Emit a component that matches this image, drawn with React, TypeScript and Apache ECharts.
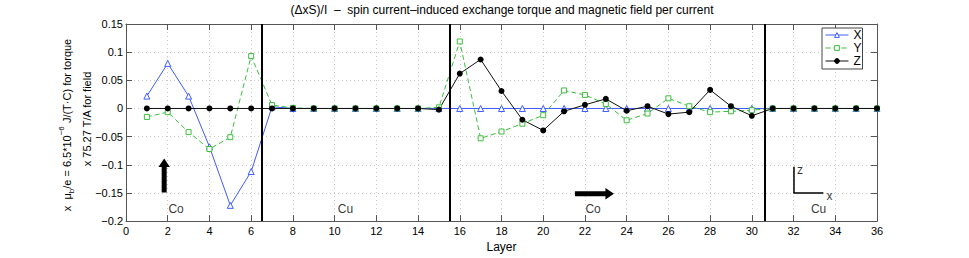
import React, { useEffect, useRef } from "react";
import * as echarts from "echarts";

// ---- data ----
const layers = [1, 2, 3, 4, 5, 6, 7, 8, 9, 10, 11, 12, 13, 14, 15, 16, 17, 18, 19, 20, 21, 22, 23, 24, 25, 26, 27, 28, 29, 30, 31, 32, 33, 34, 35, 36];
const seriesX = [0.022, 0.080, 0.022, -0.068, -0.172, -0.112, 0.003, 0, 0, 0, 0, 0, 0, 0, 0, 0, 0, 0, 0, 0, 0, 0, 0, 0, 0, 0, 0, 0, 0, 0, 0, 0, 0, 0, 0, 0];
const seriesY = [-0.015, -0.0065, -0.042, -0.072, -0.051, 0.093, 0.006, 0.001, 0, 0, 0, 0, 0, 0, 0.002, 0.119, -0.053, -0.041, -0.027, -0.012, 0.032, 0.024, 0.008, -0.021, -0.009, 0.018, 0.004, -0.0065, -0.005, -0.003, 0, 0, 0, 0, 0, 0];
const seriesZ = [0, 0, 0, 0, 0, 0, 0, 0, 0, 0, 0, 0, 0, 0, -0.002, 0.062, 0.087, 0.031, -0.020, -0.039, -0.005, 0.0065, 0.017, -0.004, 0.004, -0.010, -0.0065, 0.033, 0.004, -0.013, 0, 0, 0, 0, 0, 0];
const seriesNames = ["X", "Y", "Z"];

const xMin = 0, xMax = 36, xStep = 2;
const yMin = -0.2, yMax = 0.15, yStep = 0.05;

const interfaces = [6.5, 15.5, 30.6];
const regionLabels = [
  { name: "Co", x: 2.4, y: -0.179 },
  { name: "Cu", x: 10.52, y: -0.179 },
  { name: "Co", x: 22.39, y: -0.179 },
  { name: "Cu", x: 33.2, y: -0.179 },
];
const arrows = [
  [1.83, -0.149, 1.83, -0.089],
  [21.52, -0.1515, 23.39, -0.1515],
];
const axisGlyph = [[32.02, -0.1035, 32.02, -0.15, 33.43, -0.15]];
const glyphLabels = [
  { name: "z", x: 32.31, y: -0.109 },
  { name: "x", x: 33.72, y: -0.155 },
];

const titleText = "(\u0394xS)/I  \u2013  spin current\u2013induced exchange torque and magnetic field per current";

const FONT = "'Liberation Sans', Arial, Helvetica, sans-serif";
const BLUE = "#3d5cff";
const GREEN = "#3cbf3c";

function fmt(v: number) {
  const r = Math.round(v * 1000) / 1000;
  return String(r).replace("-", "\u2212");
}

export default function App() {
  const ref = useRef<HTMLDivElement>(null);
  useEffect(() => {
    if (!ref.current) return;
    const chart = echarts.init(ref.current, undefined, { renderer: "svg" });
    const axisColor = "#555";
    const gridLine = { show: true, lineStyle: { color: "#c8c8c8", type: [1, 3] as any, width: 1 } };
    const option: any = {
      animation: false,
      backgroundColor: "#fff",
      textStyle: { fontFamily: FONT },
      grid: { left: 126, right: 92, top: 24, bottom: 30, containLabel: false },
      legend: {
        data: seriesNames,
        orient: "vertical",
        left: 822,
        top: 28,
        padding: [1, 1, 2, 3],
        itemWidth: 23,
        itemHeight: 6,
        itemGap: 1,
        borderColor: "#444",
        borderWidth: 1,
        backgroundColor: "#fff",
        lineStyle: { width: 1 },
        itemStyle: { borderWidth: 1 },
        textStyle: { fontSize: 12, color: "#000", fontFamily: FONT },
      },
      xAxis: [
        {
          type: "value",
          min: xMin,
          max: xMax,
          interval: xStep,
          name: "Layer",
          nameLocation: "middle",
          nameGap: 17,
          nameTextStyle: { fontSize: 12, color: "#000", fontFamily: FONT },
          axisLine: { show: true, onZero: false, lineStyle: { color: axisColor } },
          axisTick: { show: true, inside: true, length: 6, lineStyle: { color: axisColor } },
          axisLabel: { fontSize: 11, color: "#000", margin: 4, fontFamily: FONT },
          splitLine: gridLine,
        },
        {
          type: "value",
          position: "top",
          min: xMin,
          max: xMax,
          interval: xStep,
          axisLine: { show: true, onZero: false, lineStyle: { color: axisColor } },
          axisTick: { show: true, inside: true, length: 6, lineStyle: { color: axisColor } },
          axisLabel: { show: false },
          splitLine: { show: false },
        },
      ],
      yAxis: [
        {
          type: "value",
          min: yMin,
          max: yMax,
          interval: yStep,
          axisLine: { show: true, onZero: false, lineStyle: { color: axisColor } },
          axisTick: { show: true, inside: true, length: 6, lineStyle: { color: axisColor } },
          axisLabel: { fontSize: 11, color: "#000", margin: 3, fontFamily: FONT, formatter: fmt },
          splitLine: gridLine,
        },
        {
          type: "value",
          position: "right",
          min: yMin,
          max: yMax,
          interval: yStep,
          axisLine: { show: true, onZero: false, lineStyle: { color: axisColor } },
          axisTick: { show: true, inside: true, length: 6, lineStyle: { color: axisColor } },
          axisLabel: { show: false },
          splitLine: { show: false },
        },
      ],
      graphic: [
        {
          type: "text",
          x: 502,
          y: 10,
          style: { text: titleText, fill: "#000", font: `12px ${FONT}`, textAlign: "center", textVerticalAlign: "middle" },
        },
        {
          type: "text",
          x: 66.5,
          y: 125,
          rotation: Math.PI / 2,
          style: {
            text: "x  \u03bc{sub|b}/e = 6.5*10{sup|\u22126} J/(T\u00b7C) for torque",
            fill: "#000",
            font: `11px ${FONT}`,
            textAlign: "center",
            textVerticalAlign: "middle",
            lineHeight: 18,
            rich: {
              sub: { fontSize: 8, fontFamily: FONT, verticalAlign: "bottom", lineHeight: 9, fill: "#000" },
              sup: { fontSize: 8, fontFamily: FONT, verticalAlign: "top", lineHeight: 9, fill: "#000" },
            },
          },
        },
        {
          type: "text",
          x: 86.5,
          y: 119,
          rotation: Math.PI / 2,
          style: { text: "x 75.27 T/A for field", fill: "#000", font: `11px ${FONT}`, textAlign: "center", textVerticalAlign: "middle" },
        },
      ],
      series: [
        {
          name: "X",
          type: "line",
          data: layers.map((l, i) => [l, seriesX[i]]),
          symbol: "triangle",
          symbolSize: 6,
          lineStyle: { color: BLUE, width: 1 },
          itemStyle: { color: "#fff", borderColor: BLUE, borderWidth: 1 },
        },
        {
          name: "Y",
          type: "line",
          data: layers.map((l, i) => [l, seriesY[i]]),
          symbol: "rect",
          symbolSize: 5,
          lineStyle: { color: GREEN, width: 1, type: [5, 3] },
          itemStyle: { color: "#fff", borderColor: GREEN, borderWidth: 1 },
        },
        {
          name: "Z",
          type: "line",
          data: layers.map((l, i) => [l, seriesZ[i]]),
          symbol: "circle",
          symbolSize: 6,
          lineStyle: { color: "#111", width: 1 },
          itemStyle: { color: "#000", borderColor: "#000", borderWidth: 0 },
        },
        {
          name: "labels",
          type: "scatter",
          data: [...regionLabels, ...glyphLabels].map((d) => ({ name: d.name, value: [d.x, d.y] })),
          symbolSize: 1,
          itemStyle: { color: "rgba(0,0,0,0)" },
          label: { show: true, position: "inside", formatter: "{b}", color: "#000", fontSize: 12, fontFamily: FONT },
          silent: true,
          markLine: {
            silent: true,
            symbol: ["none", "none"],
            label: { show: false },
            lineStyle: { color: "#000", width: 2, type: "solid" },
            data: interfaces.map((x) => ({ xAxis: x })),
          },
        },
        {
          name: "arrows",
          type: "custom",
          silent: true,
          encode: { x: [0, 2], y: [1, 3] },
          data: arrows,
          renderItem: (params: any, api: any) => {
            const p0 = api.coord([api.value(0), api.value(1)]);
            const p1 = api.coord([api.value(2), api.value(3)]);
            const dx = p1[0] - p0[0], dy = p1[1] - p0[1];
            const L = Math.hypot(dx, dy);
            const ux = dx / L, uy = dy / L;
            const nx = -uy, ny = ux;
            const sw = 2.5, hw = 5.7, hl = 8.5;
            const bx = p1[0] - ux * hl, by = p1[1] - uy * hl;
            const pts = [
              [p0[0] + nx * sw, p0[1] + ny * sw],
              [bx + nx * sw, by + ny * sw],
              [bx + nx * hw, by + ny * hw],
              [p1[0], p1[1]],
              [bx - nx * hw, by - ny * hw],
              [bx - nx * sw, by - ny * sw],
              [p0[0] - nx * sw, p0[1] - ny * sw],
            ];
            return { type: "polygon", shape: { points: pts }, style: { fill: "#000" } };
          },
        },
        {
          name: "glyph",
          type: "custom",
          silent: true,
          encode: { x: [0, 2, 4], y: [1, 3, 5] },
          data: axisGlyph,
          renderItem: (params: any, api: any) => {
            const a = api.coord([api.value(0), api.value(1)]);
            const b = api.coord([api.value(2), api.value(3)]);
            const c = api.coord([api.value(4), api.value(5)]);
            return { type: "polyline", shape: { points: [a, b, c] }, style: { stroke: "#000", lineWidth: 1.5, fill: null } };
          },
        },
      ],
    };
    chart.setOption(option);
    return () => chart.dispose();
  }, []);
  return <div ref={ref} style={{ position: "fixed", left: 0, top: 0, width: 969, height: 258 }} />;
}
